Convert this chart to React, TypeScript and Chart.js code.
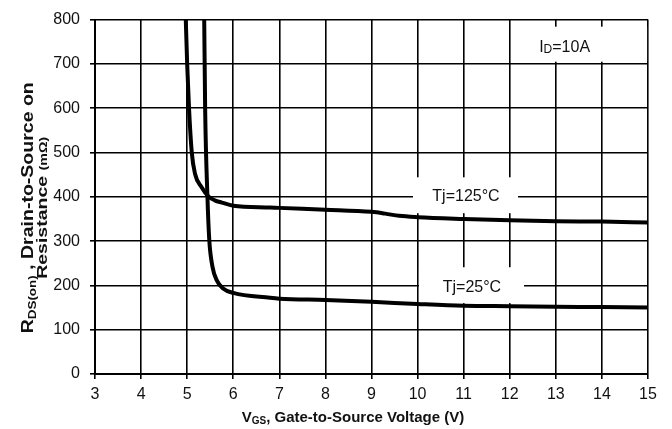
import { useEffect, useRef } from "react";
import { Chart, registerables } from "chart.js";

Chart.register(...registerables);

// Gate voltage (V) and on-resistance (mΩ) at Tj = 125 °C
const vgsHot = [4.97, 5.0, 5.04, 5.1, 5.17, 5.31, 5.46, 5.6, 5.75, 6.0, 6.8, 7, 8, 9, 9.3, 9.6, 10, 11, 12, 13, 14, 15];
const rdsHot = [800, 700, 600, 500, 452, 422, 401, 392, 387, 380, 376, 375, 371, 366, 362, 357, 354, 350, 347, 345, 344, 342];

// Gate voltage (V) and on-resistance (mΩ) at Tj = 25 °C
const vgsRoom = [5.37, 5.39, 5.44, 5.48, 5.55, 5.64, 5.78, 6.0, 6.8, 7, 8, 9, 10, 11, 12, 13, 14, 15];
const rdsRoom = [800, 600, 400, 302, 242, 212, 193, 183, 172, 170, 167, 163, 158, 154, 153, 152, 151, 150];

// Axis ranges / tick steps
const xRange = [3, 15];
const xStep = 1;
const yRange = [0, 800];
const yStep = 100;

const FONT = "'Liberation Sans', Arial, sans-serif";
const INK = "#111";

type Run = { text: string; size: number; bold?: boolean; dy?: number };

function runWidth(ctx: CanvasRenderingContext2D, runs: Run[]) {
  let w = 0;
  for (const r of runs) {
    ctx.font = `${r.bold ? "bold " : ""}${r.size}px ${FONT}`;
    w += ctx.measureText(r.text).width;
  }
  return w;
}

// Draws a run of mixed-size text starting at (x, y) on the alphabetic baseline
function drawRuns(ctx: CanvasRenderingContext2D, runs: Run[], x: number, y: number) {
  let cx = x;
  ctx.textBaseline = "alphabetic";
  ctx.textAlign = "left";
  for (const r of runs) {
    ctx.font = `${r.bold ? "bold " : ""}${r.size}px ${FONT}`;
    ctx.fillText(r.text, cx, y + (r.dy || 0));
    cx += ctx.measureText(r.text).width;
  }
}

// Condition labels: white box (in data units) and text anchor
const labelBoxes = [
  { runs: [{ text: "Tj=125°C", size: 16 }], box: [9.9, 12.18, 363, 444], at: [11.05, 403] },
  { runs: [{ text: "Tj=25°C", size: 16 }], box: [10.03, 12.31, 160, 241], at: [11.18, 198] },
  {
    runs: [
      { text: "I", size: 16 },
      { text: "D", size: 12, dy: 1 },
      { text: "=10A", size: 16 },
    ],
    box: [12.04, 14.98, 705, 784],
    at: [13.19, 741],
  },
];

const decorations = {
  id: "decorations",
  beforeDatasetsDraw(chart: any) {
    const { ctx, scales } = chart;
    const x = scales.x;
    const y = scales.y;
    ctx.save();
    ctx.fillStyle = "#fff";
    for (const l of labelBoxes) {
      const x0 = x.getPixelForValue(l.box[0]);
      const x1 = x.getPixelForValue(l.box[1]);
      const y0 = y.getPixelForValue(l.box[3]);
      const y1 = y.getPixelForValue(l.box[2]);
      ctx.fillRect(x0, y0, x1 - x0, y1 - y0);
    }
    ctx.fillStyle = INK;
    for (const l of labelBoxes) {
      const w = runWidth(ctx, l.runs as Run[]);
      const cx = x.getPixelForValue(l.at[0]);
      const cy = y.getPixelForValue(l.at[1]);
      drawRuns(ctx, l.runs as Run[], cx - w / 2, cy + 6);
    }
    ctx.restore();
  },
  afterDraw(chart: any) {
    const { ctx, chartArea } = chart;
    ctx.save();
    ctx.fillStyle = INK;
    // X axis title
    const xt: Run[] = [
      { text: "V", size: 15, bold: true },
      { text: "GS", size: 10, bold: true, dy: 2 },
      { text: ", Gate-to-Source Voltage (V)", size: 15, bold: true },
    ];
    const xw = runWidth(ctx, xt);
    drawRuns(ctx, xt, 353 - xw / 2, 422);

    // Y axis title, two rotated lines drawn with a slightly elongated face
    const l1: Run[] = [
      { text: "R", size: 16, bold: true },
      { text: "DS(on)", size: 11, bold: true, dy: 3 },
      { text: " , Drain-to-Source on", size: 16, bold: true },
    ];
    const l2: Run[] = [
      { text: "Resistance ", size: 15, bold: true },
      { text: "(mΩ)", size: 11, bold: true },
    ];
    const midY = (chartArea.top + chartArea.bottom) / 2 + 11;
    ctx.translate(0, midY);
    ctx.rotate(-Math.PI / 2);
    ctx.save();
    ctx.scale(1.22, 1);
    const w1 = runWidth(ctx, l1);
    drawRuns(ctx, l1, -w1 / 2, 32.5);
    ctx.restore();
    ctx.scale(1.3, 1);
    const w2 = runWidth(ctx, l2);
    drawRuns(ctx, l2, -w2 / 2, 46.5);
    ctx.restore();
  },
};

export default function App() {
  const ref = useRef<HTMLCanvasElement | null>(null);

  useEffect(() => {
    if (!ref.current) return;
    const grid = { color: "#000", lineWidth: 1.6, tickLength: 5, drawTicks: true };
    const tickFont = { family: FONT, size: 16 };
    const chart = new Chart(ref.current, {
      type: "line",
      data: {
        datasets: [
          {
            label: "Tj=125°C",
            data: vgsHot.map((v, i) => ({ x: v, y: rdsHot[i] })),
            borderColor: "#000",
            borderWidth: 4,
            pointRadius: 0,
            cubicInterpolationMode: "monotone",
            fill: false,
          },
          {
            label: "Tj=25°C",
            data: vgsRoom.map((v, i) => ({ x: v, y: rdsRoom[i] })),
            borderColor: "#000",
            borderWidth: 4,
            pointRadius: 0,
            cubicInterpolationMode: "monotone",
            fill: false,
          },
        ],
      },
      options: {
        animation: false,
        responsive: false,
        layout: { padding: { top: 19, right: 24, left: 0, bottom: 0 } },
        plugins: { legend: { display: false }, tooltip: { enabled: false } },
        scales: {
          x: {
            type: "linear",
            min: xRange[0],
            max: xRange[1],
            ticks: { stepSize: xStep, font: tickFont, color: INK, padding: 6, maxRotation: 0 },
            grid,
            border: { color: "#000", width: 2 },
            afterFit: (s: any) => {
              s.height = 55;
            },
          },
          y: {
            type: "linear",
            min: yRange[0],
            max: yRange[1],
            ticks: { stepSize: yStep, font: tickFont, color: INK, padding: 10 },
            grid,
            border: { color: "#000", width: 2 },
            afterFit: (s: any) => {
              s.width = 95;
            },
          },
        },
      },
      plugins: [decorations],
    });
    return () => chart.destroy();
  }, []);

  return (
    <canvas
      ref={ref}
      width={672}
      height={429}
      style={{ position: "absolute", left: 0, top: 0, width: 672, height: 429, background: "#fff" }}
    />
  );
}
